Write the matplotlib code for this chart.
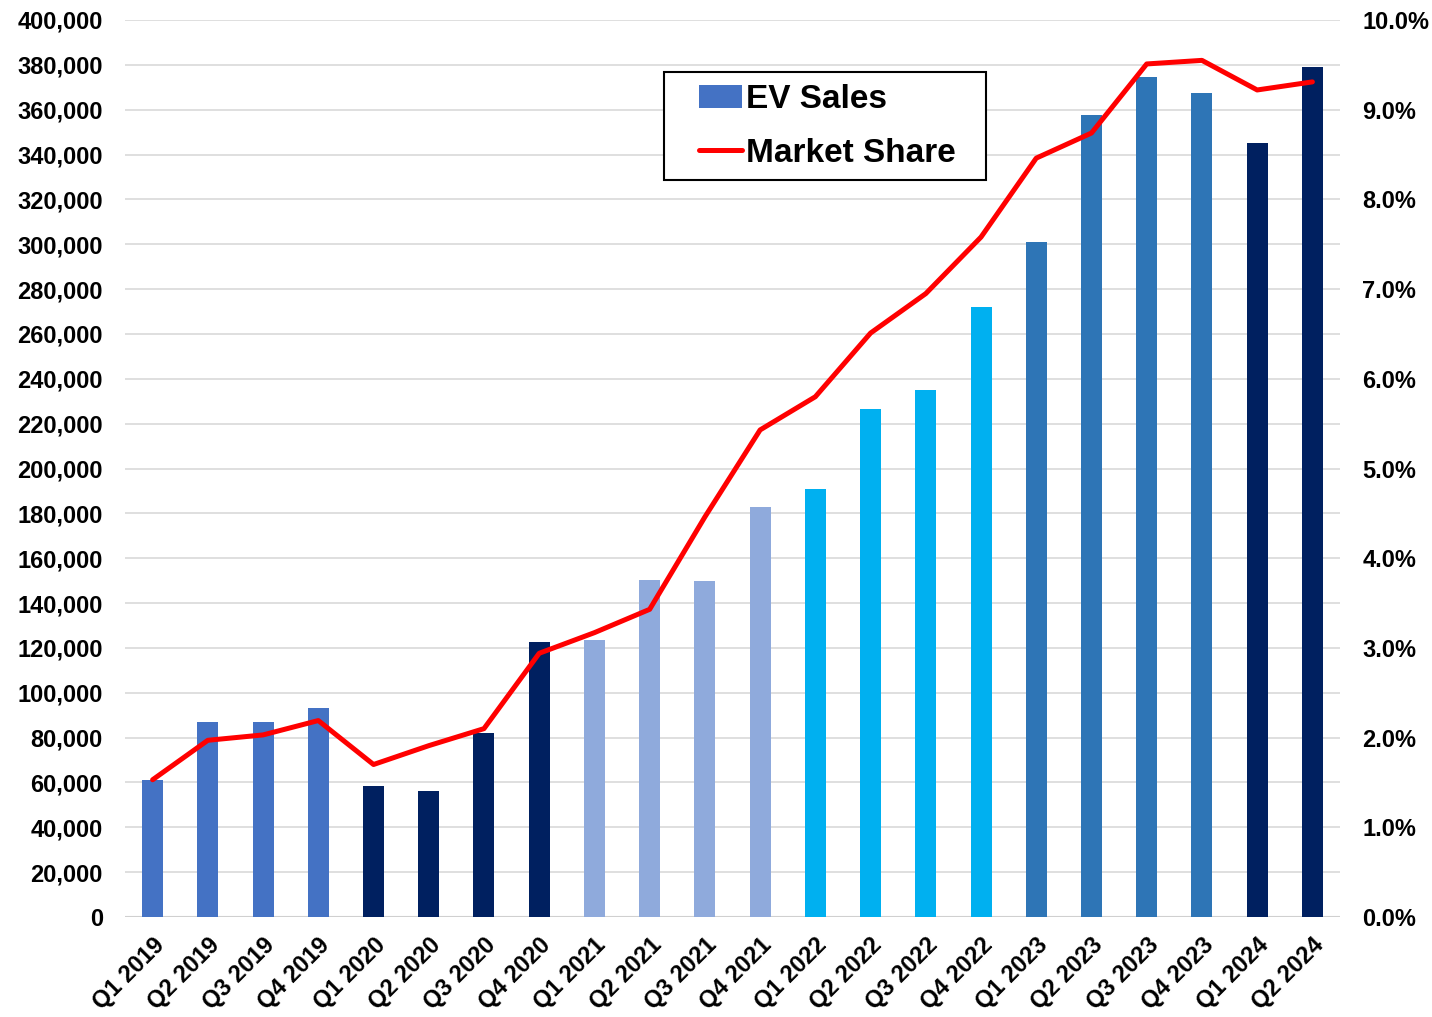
import matplotlib
matplotlib.use("Agg")
import matplotlib.pyplot as plt
from matplotlib.ticker import FuncFormatter, MultipleLocator
from matplotlib.patches import Rectangle

plt.rcParams['font.family'] = ['Liberation Sans', 'DejaVu Sans']

quarters = ["Q1 2019", "Q2 2019", "Q3 2019", "Q4 2019",
            "Q1 2020", "Q2 2020", "Q3 2020", "Q4 2020",
            "Q1 2021", "Q2 2021", "Q3 2021", "Q4 2021",
            "Q1 2022", "Q2 2022", "Q3 2022", "Q4 2022",
            "Q1 2023", "Q2 2023", "Q3 2023", "Q4 2023",
            "Q1 2024", "Q2 2024"]
ev_sales = [61000, 87000, 87000, 93000,
            58500, 56000, 82000, 122500,
            123300, 150500, 150000, 183000,
            191000, 226500, 235000, 272000,
            301200, 357600, 374700, 367500,
            345000, 379200]
market_share = [1.53, 1.97, 2.03, 2.19,
                1.70, 1.91, 2.10, 2.94,
                3.17, 3.43, 4.46, 5.43,
                5.80, 6.51, 6.95, 7.58,
                8.46, 8.74, 9.51, 9.55,
                9.22, 9.31]
year_colors = {"2019": "#4472C4", "2020": "#002060", "2021": "#8FAADC",
               "2022": "#00B0F0", "2023": "#2E75B6", "2024": "#002060"}
bar_colors = [year_colors[q.split()[1]] for q in quarters]

W, H = 1432, 1017
fig = plt.figure(figsize=(W / 100, H / 100), dpi=100)
ax = fig.add_axes([125 / W, 1 - 917 / H, 1215 / W, 897 / H])
ax2 = ax.twinx()

x = list(range(len(quarters)))
bars = ax.bar(x, ev_sales, width=0.38, color=bar_colors, zorder=3, label="EV Sales")
line, = ax2.plot(x, market_share, color="#FF0000", lw=3.6, zorder=4,
                 solid_capstyle='round', solid_joinstyle='round', label="Market Share")

ax.set_xlim(-0.5, len(quarters) - 0.5)
ax.set_ylim(0, 400000)
ax.yaxis.set_major_locator(MultipleLocator(20000))
ax.yaxis.set_major_formatter(FuncFormatter(lambda v, p: f"{int(v):,}"))
ax2.set_ylim(0, 10)
ax2.yaxis.set_major_locator(MultipleLocator(1))
ax2.yaxis.set_major_formatter(FuncFormatter(lambda v, p: f"{v:.1f}%"))

ax.grid(axis='y', color="#D9D9D9", lw=1.2, zorder=0)
ax.set_axisbelow(True)
for a in (ax, ax2):
    for s in ("top", "right", "left", "bottom"):
        a.spines[s].set_visible(False)
ax.axhline(0, color="#D0D0D0", lw=1.5, zorder=2)

ax.set_xticks(x)
ax.set_xticklabels(quarters, rotation=45, ha='right', rotation_mode='anchor',
                   fontsize=17, fontweight='bold')
ax.tick_params(axis='x', length=0, pad=12)
ax.tick_params(axis='y', length=0, pad=16, labelsize=17)
ax2.tick_params(axis='y', length=0, pad=16, labelsize=17)
for lbl in ax.get_yticklabels() + ax2.get_yticklabels():
    lbl.set_fontweight('bold')

ax.set_zorder(0)
ax2.set_zorder(1)
ax2.patch.set_visible(False)

# legend frame
frame = Rectangle((664 / W, 1 - 180 / H), 322 / W, 108 / H, transform=fig.transFigure,
                  facecolor='white', edgecolor='black', lw=1.5, zorder=5)
fig.patches.append(frame)
leg = fig.legend([bars, line], ["EV Sales", "Market Share"], loc='upper left',
                 bbox_to_anchor=(699 / W, 1 - 84 / H), frameon=False,
                 prop={'weight': 'bold', 'size': 24},
                 borderpad=0, handlelength=1.3, handletextpad=0.1, labelspacing=0.68,
                 borderaxespad=0)
leg.set_zorder(6)

fig.savefig("out.png", dpi=100, facecolor='white')
